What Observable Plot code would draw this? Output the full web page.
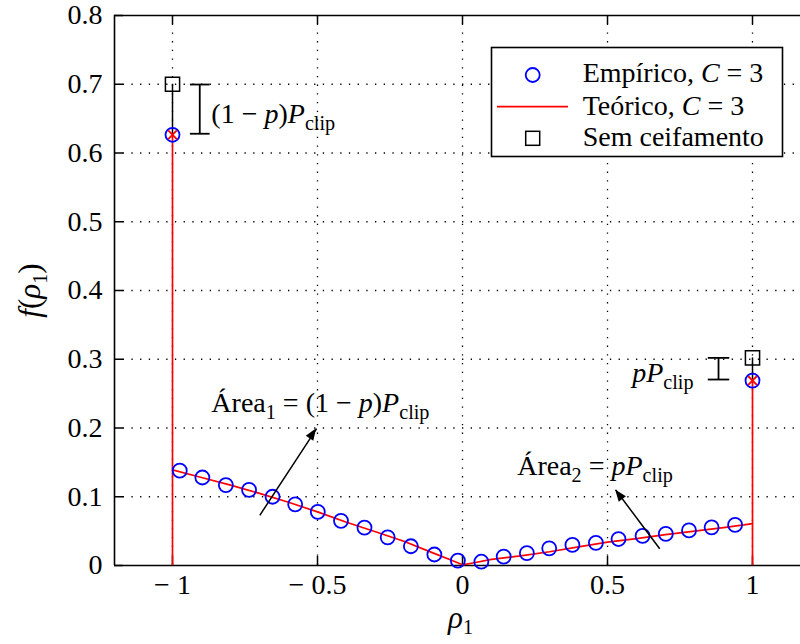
<!DOCTYPE html>
<html>
<head>
<meta charset="utf-8">
<script src="https://cdn.jsdelivr.net/npm/d3@7"></script>
<script src="https://cdn.jsdelivr.net/npm/@observablehq/plot@0.6"></script>
<style>
  html, body { margin: 0; padding: 0; background: #fff; }
  #chart { position: relative; width: 800px; height: 644px; }
  #chart svg text, #chart svg tspan { font-family: "Liberation Serif", "Times New Roman", serif !important; }
</style>
</head>
<body>
<div id="chart"></div>
<script>
// ---------- data ----------
const xDomain = [-1.2, 1.1655];
const yDomain = [0, 0.8];
const xTicks = [-1, -0.5, 0, 0.5, 1];
const xTickLabels = ["\u2212 1", "\u2212 0.5", "0", "0.5", "1"];
const yTicks = [0, 0.1, 0.2, 0.3, 0.4, 0.5, 0.6, 0.7, 0.8];
const yTickLabels = ["0", "0.1", "0.2", "0.3", "0.4", "0.5", "0.6", "0.7", "0.8"];

// empirical histogram (C = 3), interior bins
const empX = [-0.975, -0.897, -0.816, -0.736, -0.655, -0.577, -0.499, -0.419, -0.338, -0.258, -0.178, -0.097, -0.016,
              0.065, 0.142, 0.222, 0.299, 0.379, 0.46, 0.538, 0.621, 0.701, 0.781, 0.859, 0.94];
const empY = [0.138, 0.128, 0.117, 0.110, 0.100, 0.089, 0.078, 0.065, 0.055, 0.041, 0.028, 0.016, 0.007,
              0.0055, 0.013, 0.018, 0.025, 0.030, 0.033, 0.0385, 0.043, 0.046, 0.051, 0.0555, 0.059];

// theoretical density (C = 3)
const theoX = [-1, -0.9, -0.8, -0.7, -0.6, -0.5, -0.4, -0.3, -0.2, -0.1, -0.04, 0, 0.04, 0.1, 0.2, 0.3, 0.4, 0.5, 0.6, 0.7, 0.8, 0.9, 0.97, 1];
const theoY = [0.139, 0.128, 0.117, 0.105, 0.092, 0.078, 0.063, 0.049, 0.035, 0.018, 0.008, 0.001, 0.004, 0.009, 0.014, 0.020, 0.027, 0.034, 0.039, 0.045, 0.050, 0.055, 0.059, 0.061];

// clipping spikes at rho = -1 and rho = 1
const spikeX = [-1, 1];
const spikeEmp = [0.6265, 0.269];
const spikeTheo = [0.6265, 0.269];
const spikeNoClip = [0.7, 0.302];

// annotations
const bracketX = [-0.906, 0.8828];
const bracketHalf = [0.034, 0.037];
const bracketTop = [0.6996, 0.302];
const bracketBottom = [0.628, 0.2705];

const labelStartText = ["(1 \u2212 <i>p</i>)<i>P</i><sub>clip</sub>", "\u00c1rea<sub>1</sub> = (1 \u2212 <i>p</i>)<i>P</i><sub>clip</sub>", "\u00c1rea<sub>2</sub> = <i>pP</i><sub>clip</sub>"];
const labelStartX = [-0.866, -0.866, 0.1886];
const labelStartY = [0.6434, 0.223, 0.131];
const labelEndText = ["<i>pP</i><sub>clip</sub>"];
const labelEndX = [0.7966];
const labelEndY = [0.2666];

const arrowFromX = [-0.699, 0.680];
const arrowFromY = [0.073, 0.0243];
const arrowToX = [-0.503, 0.528];
const arrowToY = [0.199, 0.110];

const legendLabels = ["Emp\u00edrico, <i>C</i> = 3", "Te\u00f3rico, <i>C</i> = 3", "Sem ceifamento"];

// ---------- tables ----------
const empirical = empX.map((x, i) => ({x, y: empY[i]}));
const theory = theoX.map((x, i) => ({x, y: theoY[i]}));
const spikes = spikeX.map((x, i) => ({x, emp: spikeEmp[i], theo: spikeTheo[i], raw: spikeNoClip[i]}));
const bracketSegs = [];
bracketX.forEach((x, i) => {
  bracketSegs.push({x1: x, x2: x, y1: bracketBottom[i], y2: bracketTop[i]});
  bracketSegs.push({x1: x - bracketHalf[i], x2: x + bracketHalf[i], y1: bracketTop[i], y2: bracketTop[i]});
  bracketSegs.push({x1: x - bracketHalf[i], x2: x + bracketHalf[i], y1: bracketBottom[i], y2: bracketBottom[i]});
});
const startLabels = labelStartText.map((t, i) => ({t, x: labelStartX[i], y: labelStartY[i]}));
const endLabels = labelEndText.map((t, i) => ({t, x: labelEndX[i], y: labelEndY[i]}));
const arrows = arrowFromX.map((x1, i) => ({x1, y1: arrowFromY[i], x2: arrowToX[i], y2: arrowToY[i]}));

const FONT = "Liberation Serif";
const dotted = {stroke: "black", strokeWidth: 1.3, strokeDasharray: "1.3,7.4"};
const W = 800, H = 644, mL = 114, mR = 0, mT = 15, mB = 79;
const frameH = H - mT - mB, frameW = W - mL - mR;

const plot = Plot.plot({
  width: W, height: H,
  marginLeft: mL, marginRight: mR, marginTop: mT, marginBottom: mB,
  style: {fontFamily: FONT, fontSize: "28px", color: "black", background: "white", overflow: "visible"},
  x: {domain: xDomain, ticks: xTicks, tickFormat: d => xTickLabels[xTicks.indexOf(d)], tickSize: 0, tickPadding: 9, label: null},
  y: {domain: yDomain, ticks: yTicks, tickFormat: d => yTickLabels[yTicks.indexOf(d)], tickSize: 0, tickPadding: 12, label: null},
  marks: [
    Plot.ruleX(xTicks, {...dotted}),
    Plot.ruleY(yTicks.slice(1, -1), {...dotted}),
    Plot.ruleY([yDomain[0], yDomain[1]], {stroke: "black", strokeWidth: 1.6}),
    Plot.ruleX([xDomain[0]], {stroke: "black", strokeWidth: 1.6}),
    Plot.tickX(xTicks, {x: d => d, insetTop: frameH - 9, stroke: "black", strokeWidth: 1.5}),
    Plot.tickX(xTicks, {x: d => d, insetBottom: frameH - 9, stroke: "black", strokeWidth: 1.5}),
    Plot.tickY(yTicks, {y: d => d, insetRight: frameW - 9, stroke: "black", strokeWidth: 1.5}),
    Plot.ruleX(spikes, {x: "x", y1: 0, y2: "theo", stroke: "red", strokeWidth: 1.7}),
    Plot.ruleX(spikes, {x: "x", y1: "theo", y2: "raw", stroke: "black", strokeWidth: 1.5}),
    Plot.line(theory, {x: "x", y: "y", stroke: "red", strokeWidth: 1.7}),
    Plot.dot(empirical, {x: "x", y: "y", r: 7, stroke: "blue", strokeWidth: 1.8, fill: "none"}),
    Plot.dot(spikes, {x: "x", y: "emp", r: 7, stroke: "blue", strokeWidth: 1.8, fill: "none"}),
    Plot.dot(spikes, {x: "x", y: "theo", symbol: "times", r: 4, stroke: "red", strokeWidth: 1.8}),
    Plot.dot(spikes, {x: "x", y: "raw", symbol: "square", r: 8, stroke: "black", strokeWidth: 1.5, fill: "none"}),
    Plot.link(bracketSegs, {x1: "x1", y1: "y1", x2: "x2", y2: "y2", stroke: "black", strokeWidth: 1.8}),
    Plot.link(arrows, {x1: "x1", y1: "y1", x2: "x2", y2: "y2", stroke: "black", strokeWidth: 1.5}),
    Plot.text(startLabels, {x: "x", y: "y", text: "t", textAnchor: "start", lineAnchor: "bottom", fontSize: 28, fill: "black", fontFamily: FONT}),
    Plot.text(endLabels, {x: "x", y: "y", text: "t", textAnchor: "end", lineAnchor: "bottom", fontSize: 28, fill: "black", fontFamily: FONT}),
    Plot.text(["<i>\u03c1</i><sub>1</sub>"], {text: d => d, frameAnchor: "bottom", textAnchor: "middle", dy: 62, dx: 3, lineAnchor: "bottom", fontSize: 31, fontFamily: FONT}),
    Plot.text(["<i>f</i>(<i>\u03c1</i><sub>1</sub>)"], {text: d => d, frameAnchor: "left", textAnchor: "middle", dx: -84, rotate: -90, fontSize: 31, fontFamily: FONT})
  ]
});

// ---------- rich text (italic / subscripts) ----------
function setRich(textEl, markup) {
  const sel = d3.select(textEl);
  const fs = parseFloat(textEl.getAttribute("font-size") || getComputedStyle(textEl).fontSize) || 28;
  sel.text(null);
  const re = /<(i|sub)>(.*?)<\/\1>|([^<]+)/g;
  let m, shifted = false;
  while ((m = re.exec(markup))) {
    const ts = sel.append("tspan");
    if (m[1] === "sub") {
      ts.attr("font-size", (fs * 0.72) + "px").attr("dy", (fs * 0.24) + "px").text(m[2]);
      shifted = true;
    } else {
      if (shifted) { ts.attr("dy", (-fs * 0.24) + "px"); shifted = false; }
      if (m[1] === "i") ts.attr("font-style", "italic").text(m[2]);
      else ts.text(m[3]);
    }
  }
}
const svg = plot.tagName.toLowerCase() === "svg" ? plot : plot.querySelector("svg");
svg.querySelectorAll("text").forEach(t => {
  const s = t.textContent;
  if (s.includes("<i>") || s.includes("<sub>")) setRich(t, s);
});

// ---------- arrow heads via the plot's scales ----------
const sx = plot.scale("x"), sy = plot.scale("y");
const headG = d3.select(svg).append("g");
arrows.forEach(a => {
  const x1 = sx.apply(a.x1), y1 = sy.apply(a.y1), x2 = sx.apply(a.x2), y2 = sy.apply(a.y2);
  const ang = Math.atan2(y2 - y1, x2 - x1);
  const L = 12, Wd = 4.5;
  const bx = x2 - L * Math.cos(ang), by = y2 - L * Math.sin(ang);
  const px = -Math.sin(ang) * Wd, py = Math.cos(ang) * Wd;
  headG.append("path")
    .attr("d", `M${x2},${y2}L${bx + px},${by + py}L${bx - px},${by - py}Z`)
    .attr("fill", "black");
});

// ---------- legend ----------
const lg = d3.select(svg).append("g").attr("font-family", FONT).attr("font-size", "28px").attr("text-anchor", "start");
lg.append("rect").attr("x", 491.5).attr("y", 47.5).attr("width", 291).attr("height", 109)
  .attr("fill", "white").attr("stroke", "black").attr("stroke-width", 1.6);
lg.append("circle").attr("cx", 532.7).attr("cy", 75).attr("r", 7).attr("fill", "none").attr("stroke", "blue").attr("stroke-width", 1.8);
lg.append("line").attr("x1", 497).attr("x2", 568).attr("y1", 106.7).attr("y2", 106.7).attr("stroke", "red").attr("stroke-width", 1.7);
lg.append("rect").attr("x", 525.7).attr("y", 131.3).attr("width", 14).attr("height", 14).attr("fill", "none").attr("stroke", "black").attr("stroke-width", 1.5);
const baselines = [81.7, 115, 146];
legendLabels.forEach((lab, i) => {
  const t = lg.append("text").attr("x", 582.7).attr("y", baselines[i]).attr("fill", "black").attr("font-size", 28).attr("text-anchor", "start");
  setRich(t.node(), lab);
});

document.getElementById("chart").appendChild(plot);
</script>
</body>
</html>
